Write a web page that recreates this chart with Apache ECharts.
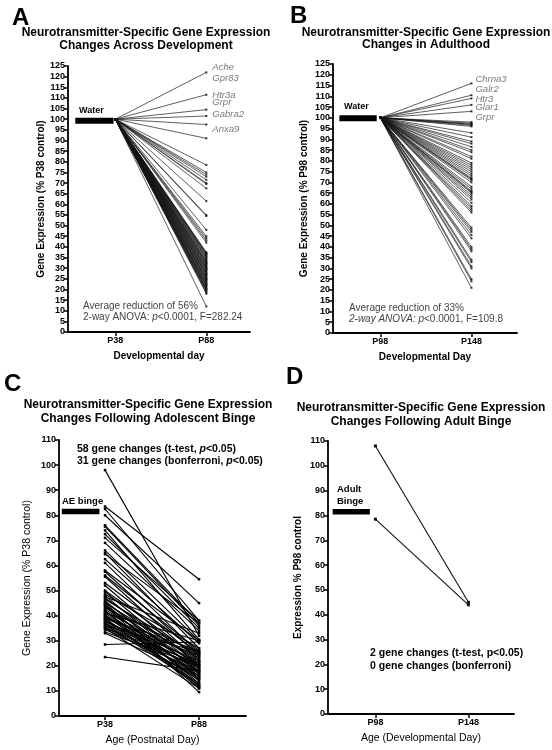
<!DOCTYPE html>
<html><head><meta charset="utf-8">
<script src="https://cdn.jsdelivr.net/npm/echarts@6/dist/echarts.min.js"></script>
<style>html,body{margin:0;padding:0;background:#fff}#c{width:552px;height:750px}</style>
</head><body><div id="c"></div>
<script>
// ---------- DATA ----------
const daysA = [38, 88];            // P38, P88
const daysB = [98, 148];           // P98, P148
const waterStartA = 100;
const endA = [122, 111.5, 104.5, 101.5, 97.5, 91, 78.5, 75, 74, 73, 71.5, 70, 69.5, 67.5, 61.5, 55, 54.5, 48, 45, 44, 43, 42,
  37.5, 37, 36.5, 36, 35.5, 35, 34, 33.5, 33, 32.5, 32, 31.5, 31, 30.5, 30, 29.5, 29, 28.5, 28, 27.5, 27, 26.5, 26, 25.5,
  25, 24.5, 24, 23.5, 23, 22.5, 22, 21.5, 21, 20.5, 20, 19.5, 19, 18.5, 18, 36.8, 34.6, 32.2, 29.8, 27.2, 24.8, 22.2, 20.2, 12];
const geneLabelsA = ['Ache', 'Gpr83', 'Htr3a', 'Grpr', 'Gabra2', 'Anxa9'];
const geneLabelYA = [124.5, 119, 111.4, 108, 102.4, 95.4];

const waterStartB = 100;
const endB = [116, 110.5, 109, 106, 103, 98, 97.5, 97, 97, 96.5, 96, 93, 91, 89, 88, 86.5, 85, 84, 82, 81, 79, 78, 77, 76, 75,
  74, 73, 72, 71.5, 71, 70, 68, 67, 66, 65.5, 65, 64, 63, 62, 60.5, 59, 58, 57, 56, 49, 48, 47, 45.5, 44, 40, 39, 38, 34, 33,
  31, 30, 25, 24, 21];
const geneLabelsB = ['Chrna3', 'Galr2', 'Htr3', 'Glar1', 'Grpr'];
const geneLabelYB = [118, 113, 108.7, 105, 100.4];

const cP38 = [98, 83.5, 82.5, 80, 76, 75.5, 74, 72.5, 71, 69, 66, 65, 64.5, 62.5, 61, 58, 57.5, 56, 55.5, 53, 52, 50, 49.5,
  48.5, 48, 47.5, 47, 46.5, 46, 45.5, 45, 45, 44.5, 44, 44, 43.5, 43, 42.5, 42, 42, 41.5, 41, 41, 40.5, 40, 40, 39.5, 39, 39,
  39, 38.5, 38, 38, 37.5, 37, 37, 36.5, 36, 36, 35.5, 35, 35, 34.5, 33.5, 33, 28.5, 23.5];
const cP88 = [32, 54.5, 38, 45, 37, 36, 30.5, 35, 38, 34, 30, 27, 37, 29, 25, 30, 24, 26, 22, 25, 20, 23, 19,
  27, 17, 33, 21, 24, 15, 18, 22, 12, 13, 20, 9.5, 16, 25, 19, 14, 11, 23, 17, 30, 12, 21, 15, 18, 24, 11.5,
  26, 16, 20, 13, 22, 14.5, 19, 12.5, 17, 25.5, 15, 21, 11, 18, 20, 16, 29.5, 18];

const dP98 = [108, 78.5];
const dP148 = [45, 44];

const waterBarX = [16, 37];     // span of the "Water" bar in day units (A)
const waterBarXB = [75.5, 96];
const bingeBarC = [15, 35];
const bingeBarD = [75, 95];
const bingeLevel = 81.5;

// ---------- CHART ----------
const FONT = 'Liberation Sans, Arial, sans-serif';
const chart = echarts.init(document.getElementById('c'), null, {renderer: 'canvas'});

function xAx(gi, min, max, ticks, name, bold) {
  return {
    type: 'value', gridIndex: gi, min: min, max: max,
    axisLine: {show: true, lineStyle: {color: '#000', width: 1.8}},
    axisTick: {show: true, customValues: ticks, length: 4, lineStyle: {color: '#000', width: 1.5}},
    axisLabel: {customValues: ticks, formatter: v => 'P' + v, color: '#000', fontWeight: 'bold', fontSize: 9, fontFamily: FONT, margin: 4},
    splitLine: {show: false},
    name: name, nameLocation: 'middle', nameGap: 19,
    nameTextStyle: {color: '#000', fontWeight: bold ? 'bold' : 'normal', fontSize: bold ? 10 : 10.5, fontFamily: FONT}
  };
}
function yAx(gi, max, interval, name, gap, bold) {
  return {
    type: 'value', gridIndex: gi, min: 0, max: max, interval: interval,
    axisLine: {show: true, lineStyle: {color: '#000', width: 1.8}},
    axisTick: {show: true, length: 4, lineStyle: {color: '#000', width: 1.5}},
    axisLabel: {color: '#000', fontWeight: 'bold', fontSize: 9, fontFamily: FONT, margin: 3},
    splitLine: {show: false},
    name: name, nameLocation: 'middle', nameRotate: 90, nameGap: gap,
    nameTextStyle: {color: '#000', fontWeight: bold ? 'bold' : 'normal', fontSize: bold ? 10 : 10.5, fontFamily: FONT}
  };
}

const series = [];
function pushLine(ai, pts, color, width, symSize) {
  series.push({
    type: 'line', xAxisIndex: ai, yAxisIndex: ai, data: pts, silent: true, animation: false,
    symbol: 'rect', symbolSize: symSize, showSymbol: symSize > 0,
    itemStyle: {color: color}, lineStyle: {color: color, width: width}, z: 2
  });
}
endA.forEach(v => pushLine(0, [[daysA[0], waterStartA], [daysA[1], v]], 'rgba(20,20,20,0.85)', 0.8, 2));
endB.forEach(v => pushLine(1, [[daysB[0], waterStartB], [daysB[1], v]], 'rgba(20,20,20,0.85)', 0.8, 2));
cP38.forEach((v, i) => pushLine(2, [[daysA[0], v], [daysA[1], cP88[i]]], '#000', 1.1, 2.5));
dP98.forEach((v, i) => pushLine(3, [[daysB[0], v], [daysB[1], dP148[i]]], '#111', 1.1, 3));

function bar(ai, xs, y, w) {
  series.push({type: 'line', xAxisIndex: ai, yAxisIndex: ai, data: [[xs[0], y], [xs[1], y]], symbol: 'none',
    silent: true, animation: false, lineStyle: {color: '#000', width: w, cap: 'butt'}, z: 3});
}
bar(0, waterBarX, waterStartA - 0.7, 6);
bar(1, waterBarXB, waterStartB - 0.2, 6);
bar(2, bingeBarC, bingeLevel, 5.5);
bar(3, bingeBarD, bingeLevel, 5.5);

function geneLabels(ai, x, names, ys, dist) {
  series.push({
    type: 'scatter', xAxisIndex: ai, yAxisIndex: ai, symbolSize: 0, silent: true, animation: false,
    data: names.map((n, i) => ({name: n, value: [x, ys[i]]})),
    label: {show: true, position: 'right', distance: dist, formatter: p => p.name,
      fontStyle: 'italic', fontSize: 9.5, color: '#555', fontFamily: FONT}
  });
}
geneLabels(0, daysA[1], geneLabelsA, geneLabelYA, 6);
geneLabels(1, daysB[1], geneLabelsB, geneLabelYB, 4);

function txt(x, y, text, font, fill, align, rich) {
  return {type: 'text', x: x, y: y, silent: true,
    style: {text: text, font: font, fill: fill || '#000', align: align || 'left', verticalAlign: 'middle', rich: rich}};
}
const titleFont = 'bold 12px ' + FONT;
const graphic = [
  txt(12, 18, 'A', 'bold 24px ' + FONT),
  txt(290, 16, 'B', 'bold 24px ' + FONT),
  txt(4, 384, 'C', 'bold 24px ' + FONT),
  txt(286, 377, 'D', 'bold 24px ' + FONT),
  txt(146, 33, 'Neurotransmitter-Specific Gene Expression', titleFont, '#000', 'center'),
  txt(146, 46, 'Changes Across Development', titleFont, '#000', 'center'),
  txt(426, 33, 'Neurotransmitter-Specific Gene Expression', titleFont, '#000', 'center'),
  txt(426, 45, 'Changes in Adulthood', titleFont, '#000', 'center'),
  txt(148, 405, 'Neurotransmitter-Specific Gene Expression', titleFont, '#000', 'center'),
  txt(148, 419, 'Changes Following Adolescent Binge', titleFont, '#000', 'center'),
  txt(421, 408, 'Neurotransmitter-Specific Gene Expression', titleFont, '#000', 'center'),
  txt(421, 422, 'Changes Following Adult Binge', titleFont, '#000', 'center'),
  txt(79, 111, 'Water', 'bold 9px ' + FONT),
  txt(344, 107, 'Water', 'bold 9px ' + FONT),
  txt(62, 501, 'AE binge', 'bold 9.5px ' + FONT),
  txt(337, 489, 'Adult', 'bold 9.5px ' + FONT),
  txt(337, 501, 'Binge', 'bold 9.5px ' + FONT),
  txt(83, 306, 'Average reduction of 56%', '10px ' + FONT, '#444'),
  txt(83, 317, '2-way ANOVA: {i|p}<0.0001, F=282.24', '10px ' + FONT, '#444', 'left',
      {i: {fontStyle: 'italic', fontSize: 10, fontFamily: FONT, fill: '#444'}}),
  txt(349, 308, 'Average reduction of 33%', '10px ' + FONT, '#444'),
  txt(349, 319, '{i|2-way ANOVA: p}<0.0001, F=109.8', '10px ' + FONT, '#444', 'left',
      {i: {fontStyle: 'italic', fontSize: 10, fontFamily: FONT, fill: '#444'}}),
  txt(77, 449, '58 gene changes (t-test, {i|p}<0.05)', 'bold 10.5px ' + FONT, '#000', 'left',
      {i: {fontStyle: 'italic', fontWeight: 'bold', fontSize: 10.5, fontFamily: FONT, fill: '#000'}}),
  txt(77, 461, '31 gene changes (bonferroni, {i|p}<0.05)', 'bold 10.5px ' + FONT, '#000', 'left',
      {i: {fontStyle: 'italic', fontWeight: 'bold', fontSize: 10.5, fontFamily: FONT, fill: '#000'}}),
  txt(370, 653, '2 gene changes (t-test, p<0.05)', 'bold 10.5px ' + FONT),
  txt(370, 666, '0 gene changes (bonferroni)', 'bold 10.5px ' + FONT)
];

chart.setOption({
  animation: false,
  backgroundColor: '#fff',
  grid: [
    {left: 68, top: 66, width: 182, height: 266},
    {left: 333, top: 64, width: 184, height: 269},
    {left: 59, top: 440, width: 187, height: 276},
    {left: 328, top: 441, width: 186, height: 273}
  ],
  xAxis: [
    xAx(0, 12, 112, daysA, 'Developmental day', true),
    xAx(1, 72, 173, daysB, 'Developmental Day', true),
    xAx(2, 13.5, 113, daysA, 'Age (Postnatal Day)', false),
    xAx(3, 72.5, 172.5, daysB, 'Age (Developmental Day)', false)
  ],
  yAxis: [
    yAx(0, 125, 5, 'Gene Expression (% P38 control)', 21, true),
    yAx(1, 125, 5, 'Gene Expression (% P98 control)', 24, true),
    yAx(2, 110, 10, 'Gene Expression (% P38 control)', 26, false),
    yAx(3, 110, 10, 'Expression % P98 control', 25, true)
  ],
  series: series,
  graphic: graphic
});
</script></body></html>
